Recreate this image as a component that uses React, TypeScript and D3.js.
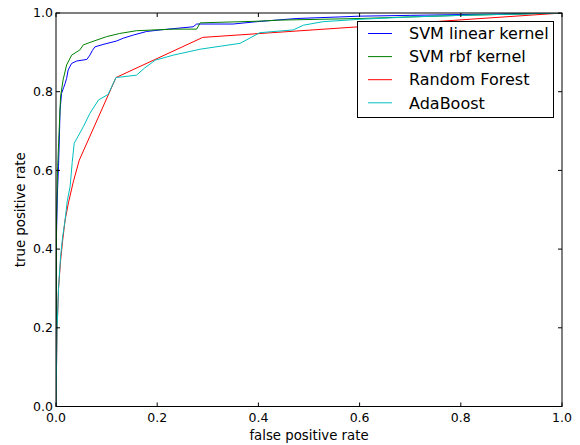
import * as d3 from "d3";

// ROC points: [false positive rate, true positive rate]
const svmLinear: [number, number][] = [
  [0, 0], [0.0005, 0.2], [0.001, 0.44], [0.003, 0.55], [0.005, 0.61], [0.007, 0.7],
  [0.008, 0.753], [0.011, 0.796], [0.015, 0.81], [0.018, 0.821], [0.021, 0.834],
  [0.024, 0.855], [0.028, 0.865], [0.031, 0.872], [0.041, 0.878], [0.061, 0.882],
  [0.067, 0.893], [0.072, 0.905], [0.077, 0.914], [0.093, 0.92], [0.12, 0.929],
  [0.133, 0.936], [0.153, 0.944], [0.179, 0.953], [0.206, 0.957], [0.271, 0.965],
  [0.278, 0.972], [0.35, 0.972], [0.397, 0.978], [0.436, 0.982], [0.476, 0.986],
  [0.561, 0.99], [0.601, 0.992], [0.7, 0.994], [0.8, 0.996], [0.917, 0.998], [1, 1],
];

const svmRbf: [number, number][] = [
  [0, 0], [0.0005, 0.25], [0.001, 0.474], [0.003, 0.6], [0.006, 0.695], [0.009, 0.787],
  [0.014, 0.83], [0.021, 0.868], [0.031, 0.893], [0.047, 0.906], [0.054, 0.919],
  [0.071, 0.927], [0.1, 0.94], [0.126, 0.948], [0.159, 0.955], [0.232, 0.959],
  [0.278, 0.959], [0.285, 0.975], [0.397, 0.979], [0.443, 0.982], [0.601, 0.986],
  [0.7, 0.99], [0.8, 0.994], [0.9, 0.997], [1, 1],
];

const randomForest: [number, number][] = [
  [0, 0], [0.001, 0.1], [0.002, 0.19], [0.005, 0.3], [0.009, 0.37], [0.013, 0.42],
  [0.018, 0.474], [0.025, 0.52], [0.034, 0.57], [0.046, 0.626], [0.1186, 0.836],
  [0.29, 0.938], [1, 1],
];

const adaBoost: [number, number][] = [
  [0, 0], [0.001, 0.1], [0.002, 0.19], [0.005, 0.3], [0.009, 0.38], [0.013, 0.43],
  [0.018, 0.474], [0.022, 0.52], [0.028, 0.56], [0.032, 0.62], [0.036, 0.669],
  [0.045, 0.69], [0.054, 0.711], [0.067, 0.745], [0.084, 0.779], [0.103, 0.793],
  [0.1186, 0.836], [0.159, 0.842], [0.175, 0.86], [0.196, 0.88], [0.232, 0.893],
  [0.285, 0.908], [0.364, 0.923], [0.403, 0.95], [0.469, 0.957], [0.489, 0.969],
  [0.528, 0.978], [0.601, 0.984], [0.7, 0.99], [0.8, 0.994], [0.9, 0.997], [1, 1],
];

const seriesNames = ["SVM linear kernel", "SVM rbf kernel", "Random Forest", "AdaBoost"];
const seriesColors = ["#0000ff", "#008000", "#ff0000", "#00bfbf"];
const tickValues = [0, 0.2, 0.4, 0.6, 0.8, 1.0];

const W = 580;
const H = 445;
const margin = { left: 56, right: 18, top: 13, bottom: 38.5 };

export default function App() {
  const series = [svmLinear, svmRbf, randomForest, adaBoost];

  const x = d3.scaleLinear().domain([0, 1]).range([margin.left, W - margin.right]);
  const y = d3.scaleLinear().domain([0, 1]).range([H - margin.bottom, margin.top]);

  const line = d3
    .line<[number, number]>()
    .x((d) => x(d[0]))
    .y((d) => y(d[1]));

  const font = "'DejaVu Sans', sans-serif";
  const x0 = x(0), x1 = x(1), y0 = y(0), y1 = y(1);
  const tickLen = 4;

  // legend box
  const lg = { x: 357.5, y: 21.5, w: 196, h: 96 };

  return (
    <svg
      width={W}
      height={H}
      style={{ position: "fixed", left: 0, top: 0, background: "#fff" }}
      fontFamily={font}
    >
      <rect x={0} y={0} width={W} height={H} fill="#fff" />

      <defs>
        <clipPath id="plot">
          <rect x={x0} y={y1} width={x1 - x0} height={y0 - y1} />
        </clipPath>
      </defs>

      <g clipPath="url(#plot)">
        {series.map((s, i) => (
          <path
            key={seriesNames[i]}
            d={line(s) || ""}
            fill="none"
            stroke={seriesColors[i]}
            strokeWidth={1}
            strokeLinejoin="round"
          />
        ))}
      </g>

      {/* frame */}
      <rect x={x0} y={y1} width={x1 - x0} height={y0 - y1} fill="none" stroke="#000" strokeWidth={1} />

      {/* ticks on all four sides, pointing inward */}
      {tickValues.map((t) => (
        <g key={"t" + t} stroke="#000" strokeWidth={1}>
          <line x1={x(t)} x2={x(t)} y1={y0} y2={y0 - tickLen} />
          <line x1={x(t)} x2={x(t)} y1={y1} y2={y1 + tickLen} />
          <line x1={x0} x2={x0 + tickLen} y1={y(t)} y2={y(t)} />
          <line x1={x1} x2={x1 - tickLen} y1={y(t)} y2={y(t)} />
        </g>
      ))}

      {tickValues.map((t) => (
        <text key={"xl" + t} x={x(t)} y={y0 + 15} fontSize={12.5} textAnchor="middle" fill="#000">
          {t.toFixed(1)}
        </text>
      ))}
      {tickValues.map((t) => (
        <text
          key={"yl" + t}
          x={x0 - 3}
          y={y(t)}
          dy="0.35em"
          fontSize={12.5}
          textAnchor="end"
          fill="#000"
        >
          {t.toFixed(1)}
        </text>
      ))}

      <text x={(x0 + x1) / 2} y={440} fontSize={13.3} textAnchor="middle" fill="#000">
        false positive rate
      </text>
      <text
        transform={`translate(25,${(y0 + y1) / 2}) rotate(-90)`}
        fontSize={13.3}
        textAnchor="middle"
        fill="#000"
      >
        true positive rate
      </text>

      {/* legend */}
      <rect x={lg.x} y={lg.y} width={lg.w} height={lg.h} fill="#fff" stroke="#000" strokeWidth={1} />
      {seriesNames.map((name, i) => {
        const ly = 33.5 + i * 23.1;
        return (
          <g key={"lg" + name}>
            <line x1={368} x2={392} y1={ly} y2={ly} stroke={seriesColors[i]} strokeWidth={1} />
            <text x={409} y={ly} dy="0.36em" fontSize={16} fill="#000">
              {name}
            </text>
          </g>
        );
      })}
    </svg>
  );
}
